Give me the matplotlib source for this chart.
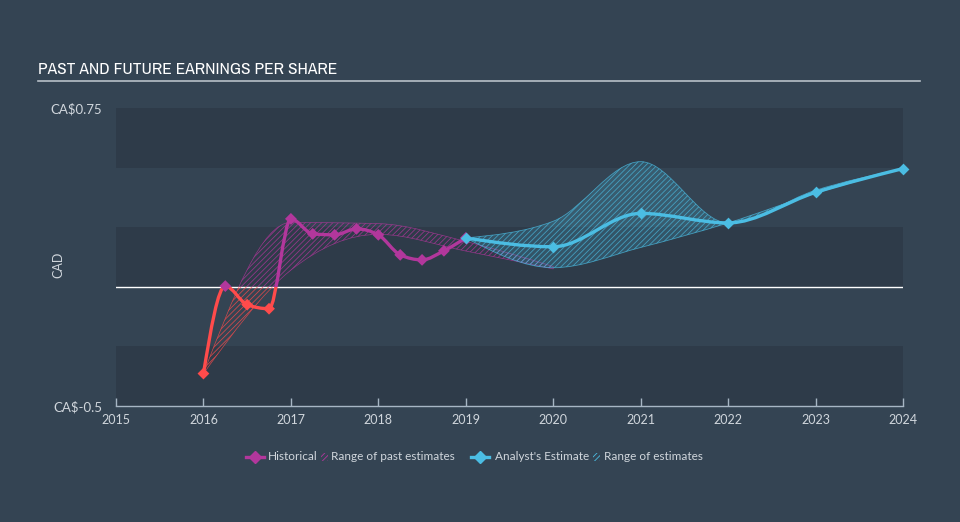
import numpy as np
import matplotlib
matplotlib.use("Agg")
import matplotlib.pyplot as plt
from matplotlib import font_manager
from matplotlib.path import Path
from matplotlib.patches import PathPatch, Rectangle
from matplotlib.lines import Line2D

# data
hist_x = [2016.0, 2016.25, 2016.5, 2016.75, 2017.0, 2017.25, 2017.5, 2017.75,
          2018.0, 2018.25, 2018.5, 2018.75, 2019.0]
hist_y = [-0.364, 0.003, -0.075, -0.092, 0.285, 0.222, 0.218, 0.243,
          0.218, 0.134, 0.113, 0.151, 0.205]

past_x = [2016.0, 2017.0, 2018.0, 2019.0, 2020.0]
past_hi = [-0.364, 0.27, 0.265, 0.19, 0.085]
past_lo = [-0.364, 0.07, 0.22, 0.15, 0.075]

est_x = [2019.0, 2020.0, 2021.0, 2022.0, 2023.0, 2024.0]
est_y = [0.205, 0.168, 0.308, 0.268, 0.396, 0.496]
est_hi = [0.205, 0.275, 0.525, 0.268, 0.405, 0.496]
est_lo = [0.205, 0.08, 0.165, 0.268, 0.392, 0.496]

years = list(range(2015, 2025))

BG = '#344453'
DARK = '#2e3b49'
PURPLE = '#b2379c'
RED = '#ff4b4b'
BLUE = '#4bbde3'
TXT = '#d0d6dc'

plt.rcParams['hatch.linewidth'] = 0.6
plt.rcParams['font.family'] = ['Lato', 'DejaVu Sans']

# pick a narrow font for the title if there is one
names = sorted(set(f.name for f in font_manager.fontManager.ttflist))
narrow = [n for n in names if 'Narrow' in n or 'Condensed' in n]
title_fam = narrow[:1] + ['Roboto', 'DejaVu Sans']


def slopes(xs, ys):
    # monotone cubic tangents (like d3 curveMonotoneX)
    n = len(xs)
    h = np.diff(xs)
    s = np.diff(ys) / h
    m = np.zeros(n)
    for i in range(1, n - 1):
        p = (s[i - 1] * h[i] + s[i] * h[i - 1]) / (h[i - 1] + h[i])
        m[i] = (np.sign(s[i - 1]) + np.sign(s[i])) * min(abs(s[i - 1]), abs(s[i]), 0.5 * abs(p))
    m[0] = (3 * s[0] - m[1]) / 2 if n > 2 else s[0]
    m[-1] = (3 * s[-1] - m[-2]) / 2 if n > 2 else s[-1]
    return m


def curve_verts(xs, ys):
    m = slopes(np.array(xs, float), np.array(ys, float))
    verts = [(xs[0], ys[0])]
    for i in range(len(xs) - 1):
        h = xs[i + 1] - xs[i]
        verts += [(xs[i] + h / 3, ys[i] + m[i] * h / 3),
                  (xs[i + 1] - h / 3, ys[i + 1] - m[i + 1] * h / 3),
                  (xs[i + 1], ys[i + 1])]
    return verts


def line_path(xs, ys):
    v = curve_verts(xs, ys)
    codes = [Path.MOVETO] + [Path.CURVE4] * (len(v) - 1)
    return Path(v, codes)


def band_path(xs, hi, lo):
    top = curve_verts(xs, hi)
    bot = curve_verts(xs[::-1], lo[::-1])
    v = top + [bot[0]] + bot[1:] + [top[0]]
    codes = ([Path.MOVETO] + [Path.CURVE4] * (len(top) - 1) + [Path.LINETO]
             + [Path.CURVE4] * (len(bot) - 1) + [Path.CLOSEPOLY])
    return Path(v, codes)


fig = plt.figure(figsize=(9.6, 5.22), dpi=100, facecolor=BG)
ax = fig.add_axes([116 / 960, 1 - 406 / 522, (903 - 116) / 960, (406 - 108) / 522])
ax.set_facecolor('none')
ax.set_xlim(2015, 2024)
ax.set_ylim(-0.5, 0.75)

for lo_b in [-0.5, 0.0, 0.5]:
    ax.axhspan(lo_b, lo_b + 0.25, color=DARK, lw=0, zorder=0)
ax.axhline(0, color='white', lw=1.0, zorder=1)

below = Rectangle((2014, -2), 12, 2, transform=ax.transData)
above = Rectangle((2014, 0), 12, 2, transform=ax.transData)

# range of past estimates
for col, clip in [(PURPLE, above), (RED, below)]:
    p = PathPatch(band_path(past_x, past_hi, past_lo), facecolor='none',
                  edgecolor=col, hatch='//////', lw=0.5, alpha=0.75, zorder=2)
    ax.add_patch(p)
    p.set_clip_path(clip)

# range of estimates
ax.add_patch(PathPatch(band_path(est_x, est_hi, est_lo), facecolor=BLUE, alpha=0.2,
                       lw=0, zorder=2))
ax.add_patch(PathPatch(band_path(est_x, est_hi, est_lo), facecolor='none',
                       edgecolor=BLUE, hatch='//////', lw=0.6, alpha=0.7, zorder=2))

# historical line
for col, clip in [(PURPLE, above), (RED, below)]:
    p = PathPatch(line_path(hist_x, hist_y), facecolor='none', edgecolor=col,
                  lw=2.4, capstyle='round', joinstyle='round', zorder=4)
    ax.add_patch(p)
    p.set_clip_path(clip)
mcols = [PURPLE if v >= 0 else RED for v in hist_y]
ax.scatter(hist_x, hist_y, marker='D', s=36, c=mcols, lw=0, zorder=5)

# analyst estimate
ax.add_patch(PathPatch(line_path(est_x, est_y), facecolor='none', edgecolor=BLUE,
                       lw=2.4, capstyle='round', joinstyle='round', zorder=4))
ax.scatter(est_x, est_y, marker='D', s=36, c=BLUE, lw=0, zorder=6, clip_on=False)

for s in ['top', 'right', 'left']:
    ax.spines[s].set_visible(False)
ax.spines['bottom'].set_color('#a7b6c4')
ax.spines['bottom'].set_linewidth(1.0)
ax.set_xticks(years)
ax.set_xticklabels([str(y) for y in years])
ax.tick_params(axis='x', direction='in', length=6, width=1, color='#a7b6c4',
               labelcolor=TXT, labelsize=9, pad=6)
ax.set_yticks([-0.5, 0.75])
ax.set_yticklabels([r'CA\$-0.5', r'CA\$0.75'])
ax.tick_params(axis='y', length=0, labelcolor=TXT, labelsize=9.5, pad=10)

fig.text(58 / 960, 1 - 265 / 522, 'CAD', rotation=90, color=TXT, fontsize=9,
         ha='center', va='center')

# title
fig.text(38 / 960, 1 - 74 / 522, 'PAST AND FUTURE EARNINGS PER SHARE', color='white',
         fontsize=12.5, fontweight='bold', family=title_fam,
         ha='left', va='baseline')
fig.add_artist(Line2D([38 / 960, 920 / 960], [1 - 81 / 522] * 2, color='#b8c0c8', lw=1.2))

# legend
ly = 1 - 457 / 522
fig.add_artist(Line2D([255 / 960], [ly], marker='D', ms=6, color=PURPLE, ls='none'))
fig.add_artist(Line2D([246 / 960, 264 / 960], [ly, ly], color=PURPLE, lw=2.4))
fig.text(268 / 960, ly, 'Historical', color=TXT, fontsize=8.5, va='center')
fig.patches.append(Rectangle((321 / 960, ly - 4 / 522), 7 / 960, 8 / 522, transform=fig.transFigure,
                             facecolor='none', edgecolor=PURPLE, hatch='//////', lw=0))
fig.text(331 / 960, ly, 'Range of past estimates', color=TXT, fontsize=8.5, va='center')
fig.add_artist(Line2D([480 / 960], [ly], marker='D', ms=6, color=BLUE, ls='none'))
fig.add_artist(Line2D([471 / 960, 489 / 960], [ly, ly], color=BLUE, lw=2.4))
fig.text(495 / 960, ly, "Analyst's Estimate", color=TXT, fontsize=8.5, va='center')
fig.patches.append(Rectangle((593 / 960, ly - 4 / 522), 7 / 960, 8 / 522, transform=fig.transFigure,
                             facecolor='none', edgecolor=BLUE, hatch='//////', lw=0))
fig.text(604 / 960, ly, 'Range of estimates', color=TXT, fontsize=8.5, va='center')

fig.savefig('out.png', dpi=100, facecolor=BG)
